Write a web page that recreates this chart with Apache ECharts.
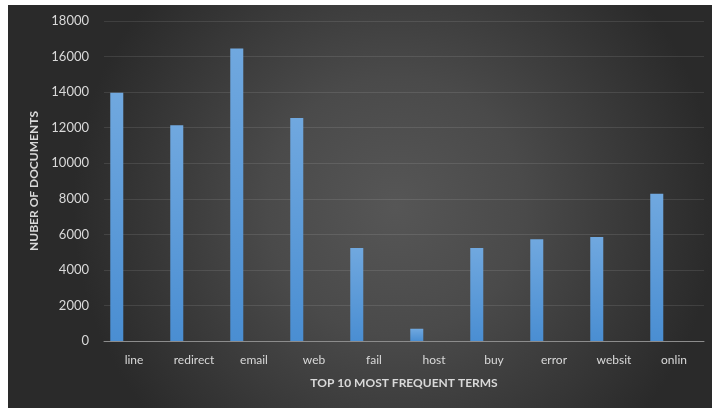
<!DOCTYPE html>
<html>
<head>
<meta charset="utf-8">
<script src="https://cdn.jsdelivr.net/npm/echarts@6/dist/echarts.min.js"></script>
<style>
  html, body { margin: 0; padding: 0; background: #fff; }
  #chart { position: absolute; left: 8px; top: 5px; width: 704px; height: 403px; }
</style>
</head>
<body>
<div id="chart"></div>
<script>
const terms = ['line', 'redirect', 'email', 'web', 'fail', 'host', 'buy', 'error', 'websit', 'onlin'];
const docCounts = [13970, 12130, 16460, 12540, 5230, 690, 5230, 5720, 5850, 8280];
const yTicks = { min: 0, max: 18000, step: 2000 };

const chart = echarts.init(document.getElementById('chart'));
const textColor = '#d9d9d9';
const font = 'Lato, "Open Sans", sans-serif';

chart.setOption({
  backgroundColor: {
    type: 'radial', x: 0.55, y: 0.5, r: 0.8,
    colorStops: [
      { offset: 0, color: '#565656' },
      { offset: 0.4, color: '#4a4a4a' },
      { offset: 1, color: '#2a2a2a' }
    ]
  },
  grid: { left: 96, right: 8, top: 16, bottom: 67 },
  xAxis: {
    type: 'category',
    data: terms,
    name: 'TOP 10 MOST FREQUENT TERMS',
    nameLocation: 'middle',
    nameGap: 36,
    nameTextStyle: { color: textColor, fontWeight: 'bold', fontSize: 12, fontFamily: font },
    axisLine: { lineStyle: { color: '#8c8c8c', width: 1 } },
    axisTick: { show: false },
    axisLabel: { color: textColor, fontSize: 12, fontFamily: font, margin: 13 }
  },
  yAxis: {
    type: 'value',
    min: yTicks.min,
    max: yTicks.max,
    interval: yTicks.step,
    name: 'NUBER OF DOCUMENTS',
    nameLocation: 'middle',
    nameRotate: 90,
    nameGap: 54,
    nameTextStyle: { color: textColor, fontWeight: 'bold', fontSize: 12, fontFamily: font },
    axisLine: { show: false },
    axisTick: { show: false },
    axisLabel: { color: textColor, fontSize: 13, fontFamily: font, margin: 15, formatter: v => String(v) },
    splitLine: { lineStyle: { color: 'rgba(255,255,255,0.1)', width: 1 } }
  },
  series: [
    {
      type: 'bar',
      data: docCounts,
      barWidth: 13,
      barGap: '165%',
      itemStyle: {
        color: {
          type: 'linear', x: 0, y: 0, x2: 0, y2: 1,
          colorStops: [
            { offset: 0, color: '#70a8df' },
            { offset: 1, color: '#4a8ed2' }
          ]
        },
        shadowColor: 'rgba(0,0,0,0.55)',
        shadowBlur: 3,
        shadowOffsetX: 1,
        shadowOffsetY: 1
      }
    },
    {
      type: 'bar',
      data: [],
      barWidth: 13
    }
  ]
});
</script>
</body>
</html>
